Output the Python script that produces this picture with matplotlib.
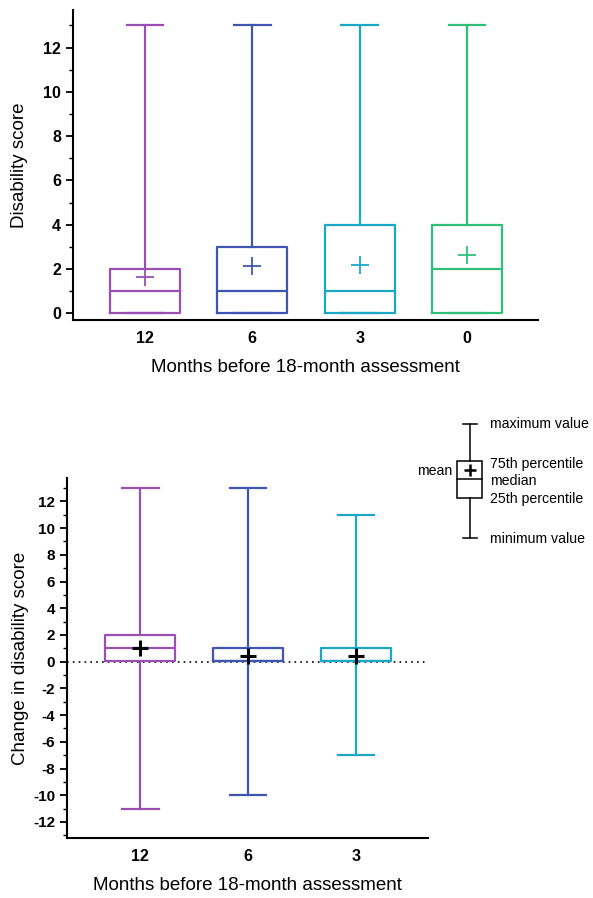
import numpy as np
import matplotlib.pyplot as plt

plt.rcParams['font.family'] = ['Liberation Sans', 'DejaVu Sans']
plt.rcParams['axes.unicode_minus'] = False

# box statistics
colors = ['#9a4fb5', '#3f56b0', '#1ba8c8', '#2fbf78']

top_labels = ['12', '6', '3', '0']
top_min = [0, 0, 0, 0]
top_q1 = [0, 0, 0, 0]
top_med = [1, 1, 1, 2]
top_q3 = [2, 3, 4, 4]
top_max = [13, 13, 13, 13]
top_mean = [1.63, 2.15, 2.18, 2.65]

bot_labels = ['12', '6', '3']
bot_min = [-11, -10, -7]
bot_q1 = [0.05, 0.05, 0.05]
bot_med = [1, 0.05, 0.05]
bot_q3 = [2, 1, 1]
bot_max = [13, 13, 11]
bot_mean = [1.0, 0.45, 0.45]


def make_stats(mins, q1s, meds, q3s, maxs, means, labels):
    return [dict(whislo=a, q1=b, med=c, q3=d, whishi=e, mean=f, label=l, fliers=[])
            for a, b, c, d, e, f, l in zip(mins, q1s, meds, q3s, maxs, means, labels)]


def draw_boxes(ax, stats, mean_color=None, mean_size=14, mean_width=1.5):
    for i, st in enumerate(stats):
        c = colors[i]
        ax.bxp([st], positions=[i], widths=0.65, showmeans=True, showfliers=False,
               boxprops=dict(color=c, linewidth=1.6),
               whiskerprops=dict(color=c, linewidth=1.6),
               capprops=dict(color=c, linewidth=1.6),
               medianprops=dict(color=c, linewidth=1.6),
               meanprops=dict(marker='+', markeredgecolor=mean_color or c,
                              markersize=mean_size, markeredgewidth=mean_width),
               capwidths=0.34, manage_ticks=False)


def style_axis(ax):
    ax.spines['top'].set_visible(False)
    ax.spines['right'].set_visible(False)
    ax.spines['left'].set_linewidth(1.5)
    ax.spines['bottom'].set_linewidth(1.5)
    ax.tick_params(axis='y', which='major', length=5, width=1.3, labelsize=11.5)
    ax.tick_params(axis='y', which='minor', length=3, width=1.0)
    ax.tick_params(axis='x', length=0, labelsize=11.5, pad=8)
    for t in ax.get_xticklabels() + ax.get_yticklabels():
        t.set_fontweight('bold')


fig = plt.figure(figsize=(5.93, 8.98), dpi=100)

# top panel
ax1 = fig.add_axes([0.1231, 0.6437, 0.7839, 0.3452])
draw_boxes(ax1, make_stats(top_min, top_q1, top_med, top_q3, top_max, top_mean, top_labels),
           mean_size=13, mean_width=1.3)
ax1.set_xlim(-0.67, 3.66)
ax1.set_ylim(-0.3, 13.7)
ax1.set_yticks(np.arange(0, 13, 2))
ax1.set_yticks(np.arange(1, 14, 2), minor=True)
ax1.set_xticks(range(len(top_labels)))
ax1.set_xticklabels(top_labels)
ax1.set_ylabel('Disability score', fontsize=13.5)
ax1.yaxis.set_label_coords(-0.097, 0.5)
ax1.set_xlabel('Months before 18-month assessment', fontsize=13.5, labelpad=9)
style_axis(ax1)

# bottom panel
ax2 = fig.add_axes([0.113, 0.0668, 0.6088, 0.4009])
ax2.axhline(0, color='black', linestyle=(0, (1, 2.5)), linewidth=1.2, zorder=0)
draw_boxes(ax2, make_stats(bot_min, bot_q1, bot_med, bot_q3, bot_max, bot_mean, bot_labels),
           mean_color='black', mean_size=12, mean_width=2.2)
ax2.set_xlim(-0.68, 2.67)
ax2.set_ylim(-13.2, 13.75)
ax2.set_yticks(np.arange(-12, 13, 2))
ax2.set_yticks(np.arange(-13, 14, 1), minor=True)
ax2.set_xticks(range(len(bot_labels)))
ax2.set_xticklabels(bot_labels)
ax2.set_ylabel('Change in disability score', fontsize=13.5)
ax2.yaxis.set_label_coords(-0.105, 0.5)
ax2.set_xlabel('Months before 18-month assessment', fontsize=13.5, labelpad=9)
style_axis(ax2)
ax2.tick_params(axis='y', which='major', labelsize=11)

# key explaining the box
axk = fig.add_axes([0, 0, 1, 1], facecolor='none')
axk.set_xlim(0, 593)
axk.set_ylim(898, 0)
axk.axis('off')
kx = 470
axk.plot([kx, kx], [424, 461], color='black', lw=1.1)
axk.plot([kx, kx], [498, 538], color='black', lw=1.1)
axk.plot([kx - 7, kx + 7], [424, 424], color='black', lw=1.1)
axk.plot([kx - 7, kx + 7], [538, 538], color='black', lw=1.1)
axk.add_patch(plt.Rectangle((457, 461), 25, 37, fill=False, edgecolor='black', lw=1.1))
axk.plot([457, 482], [479, 479], color='black', lw=1.1)
axk.plot([kx], [470], marker='+', color='black', markersize=9, markeredgewidth=1.8)
fs = 10.2
axk.text(490, 424, 'maximum value', fontsize=fs, va='center')
axk.text(490, 464, '75th percentile', fontsize=fs, va='center')
axk.text(490, 481, 'median', fontsize=fs, va='center')
axk.text(490, 499, '25th percentile', fontsize=fs, va='center')
axk.text(490, 539, 'minimum value', fontsize=fs, va='center')
axk.text(452, 471, 'mean', fontsize=fs, va='center', ha='right')

fig.savefig('out.png', dpi=100)
